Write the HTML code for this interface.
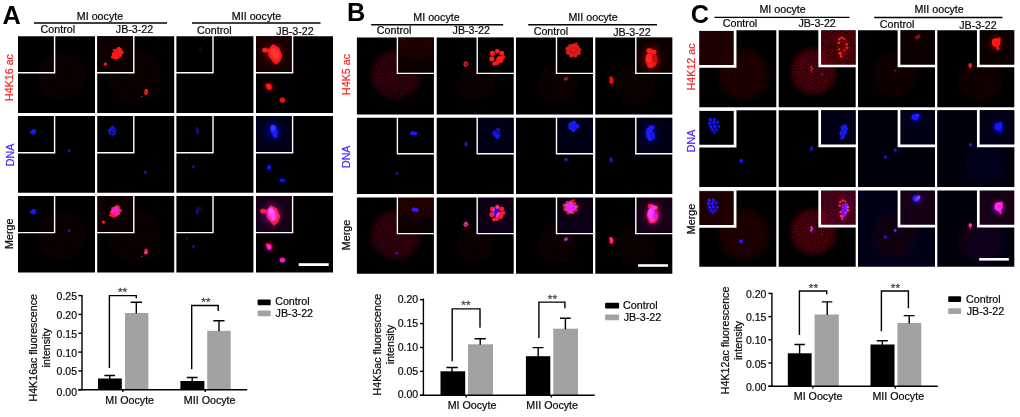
<!DOCTYPE html>
<html lang="en"><head><meta charset="utf-8"><title>Figure</title>
<style>
html,body{margin:0;padding:0;background:#fff;}
svg{display:block;font-family:"Liberation Sans", Arial, Helvetica, sans-serif;}
text{font-family:"Liberation Sans", Arial, Helvetica, sans-serif;}
.t{font-size:10.7px;fill:#0a0a0a;stroke:#0a0a0a;stroke-width:0.22px;}
.big{font-size:25.3px;font-weight:bold;fill:#000;}
.ax{stroke:#000;stroke-width:1.4;fill:none;}
.tk{font-size:10.5px;fill:#0a0a0a;stroke:#0a0a0a;stroke-width:0.2px;}
.st{font-size:11.8px;fill:#4a4a4a;stroke:#4a4a4a;stroke-width:0.3px;}
</style></head><body>
<svg width="1020" height="417" viewBox="0 0 1020 417">
<defs>
<filter id="b0" x="-50%" y="-50%" width="200%" height="200%"><feGaussianBlur stdDeviation="0.35"/></filter>
<filter id="b05" x="-50%" y="-50%" width="200%" height="200%"><feGaussianBlur stdDeviation="0.55"/></filter>
<filter id="b1" x="-50%" y="-50%" width="200%" height="200%"><feGaussianBlur stdDeviation="0.7"/></filter>
<filter id="b2" x="-50%" y="-50%" width="200%" height="200%"><feGaussianBlur stdDeviation="1.6"/></filter>
<filter id="b3" x="-50%" y="-50%" width="200%" height="200%"><feGaussianBlur stdDeviation="3"/></filter>
<filter id="gr" x="-20%" y="-20%" width="140%" height="140%">
<feGaussianBlur in="SourceGraphic" stdDeviation="2.6" result="bl"/>
<feTurbulence type="fractalNoise" baseFrequency="0.85" numOctaves="2" seed="5" result="n"/>
<feColorMatrix in="n" type="matrix" values="0 0 0 0 1  0 0 0 0 1  0 0 0 0 1  1.7 0 0 0 -0.2" result="na"/>
<feComposite in="bl" in2="na" operator="in"/></filter>
<filter id="gr0" x="0" y="0" width="100%" height="100%">
<feTurbulence type="fractalNoise" baseFrequency="0.85" numOctaves="2" seed="9" result="n"/>
<feColorMatrix in="n" type="matrix" values="0 0 0 0 1  0 0 0 0 1  0 0 0 0 1  1.7 0 0 0 -0.2" result="na"/>
<feComposite in="SourceGraphic" in2="na" operator="in"/></filter>
<clipPath id="clipTR"><rect x="41" y="0" width="36" height="36"/></clipPath>
<clipPath id="clipCell"><rect x="0" y="0" width="77" height="77"/></clipPath>
<clipPath id="ccA0"><rect x="0" y="0" width="77" height="76.80"/></clipPath><clipPath id="ccA1"><rect x="0" y="0" width="77" height="76.70"/></clipPath><clipPath id="ccA2"><rect x="0" y="0" width="77" height="76.60"/></clipPath><clipPath id="ccB0"><rect x="0" y="0" width="77" height="77.00"/></clipPath><clipPath id="ccB1"><rect x="0" y="0" width="77" height="76.30"/></clipPath><clipPath id="ccB2"><rect x="0" y="0" width="77" height="76.20"/></clipPath><clipPath id="ccC0"><rect x="0" y="0" width="77" height="77.00"/></clipPath><clipPath id="ccC1"><rect x="0" y="0" width="77" height="76.90"/></clipPath><clipPath id="ccC2"><rect x="0" y="0" width="77" height="76.40"/></clipPath>
</defs>
<filter id="soft" x="0" y="0" width="100%" height="100%" filterUnits="userSpaceOnUse"><feGaussianBlur stdDeviation="0.38"/></filter>
<g filter="url(#soft)">
<rect x="-5" y="-5" width="1030" height="427" fill="#fff"/>

<g transform="translate(18 36.2)"><g clip-path="url(#ccA0)" style="isolation:isolate"><rect x="-4" y="-4" width="85" height="84.80" fill="#020003"/><circle cx="44.00" cy="40.00" r="24.00" fill="#0c0000" opacity="1" filter="url(#gr)"/></g><path d="M0 36.6 H36.6 V0" fill="none" stroke="#fff" stroke-width="1.4" stroke-linecap="square"/></g>
<g transform="translate(18 116.1)"><g clip-path="url(#ccA1)" style="isolation:isolate"><rect x="-4" y="-4" width="85" height="84.70" fill="#020003"/><g filter="url(#b0)"><ellipse cx="15.50" cy="16.00" rx="2.40" ry="2.80" fill="#1a1aff" opacity="0.6" filter="url(#b1)"/><circle cx="16.70" cy="14.64" r="1.17" fill="#1a1aff" opacity="1"/><circle cx="15.27" cy="16.84" r="1.29" fill="#1a1aff" opacity="1"/><circle cx="17.03" cy="15.63" r="1.28" fill="#1a1aff" opacity="1"/><circle cx="16.51" cy="14.49" r="1.36" fill="#1a1aff" opacity="1"/><circle cx="13.34" cy="16.23" r="1.35" fill="#1a1aff" opacity="1"/><circle cx="14.96" cy="14.42" r="1.14" fill="#1a1aff" opacity="1"/><circle cx="15.22" cy="15.98" r="1.06" fill="#1a1aff" opacity="1"/></g><ellipse cx="51.20" cy="34.50" rx="1.00" ry="1.50" fill="#1a1aff" opacity="1" filter="url(#b0)"/></g><path d="M0 36.6 H36.6 V0" fill="none" stroke="#fff" stroke-width="1.4" stroke-linecap="square"/></g>
<g transform="translate(18 196.0)"><g clip-path="url(#ccA2)" style="isolation:isolate"><rect x="-4" y="-4" width="85" height="84.60" fill="#020003"/><circle cx="44.00" cy="40.00" r="24.00" fill="#0c0000" opacity="1" filter="url(#gr)"/><g style="mix-blend-mode:screen"><g filter="url(#b0)"><ellipse cx="15.50" cy="16.00" rx="2.40" ry="2.80" fill="#1a1aff" opacity="0.6" filter="url(#b1)"/><circle cx="16.70" cy="14.64" r="1.17" fill="#1a1aff" opacity="1"/><circle cx="15.27" cy="16.84" r="1.29" fill="#1a1aff" opacity="1"/><circle cx="17.03" cy="15.63" r="1.28" fill="#1a1aff" opacity="1"/><circle cx="16.51" cy="14.49" r="1.36" fill="#1a1aff" opacity="1"/><circle cx="13.34" cy="16.23" r="1.35" fill="#1a1aff" opacity="1"/><circle cx="14.96" cy="14.42" r="1.14" fill="#1a1aff" opacity="1"/><circle cx="15.22" cy="15.98" r="1.06" fill="#1a1aff" opacity="1"/></g><ellipse cx="51.20" cy="34.50" rx="1.00" ry="1.50" fill="#1a1aff" opacity="1" filter="url(#b0)"/></g></g><path d="M0 36.6 H36.6 V0" fill="none" stroke="#fff" stroke-width="1.4" stroke-linecap="square"/></g>
<g transform="translate(97.2 36.2)"><g clip-path="url(#ccA0)" style="isolation:isolate"><rect x="-4" y="-4" width="85" height="84.80" fill="#020003"/><circle cx="37.20" cy="40.50" r="27.00" fill="#110000" opacity="1" filter="url(#gr)"/><rect x="0" y="0" width="36" height="36" fill="#0a0000"/><g filter="url(#b0)"><ellipse cx="20.20" cy="16.80" rx="4.20" ry="6.00" fill="#ff1a1a" opacity="0.9" filter="url(#b1)" transform="rotate(35 20.20 16.80)"/><circle cx="20.81" cy="21.05" r="1.50" fill="#ff1a1a" opacity="1"/><circle cx="18.02" cy="16.99" r="1.47" fill="#ff1a1a" opacity="1"/><circle cx="23.38" cy="13.50" r="1.38" fill="#ff1a1a" opacity="1"/><circle cx="17.74" cy="18.69" r="1.66" fill="#ff1a1a" opacity="1"/><circle cx="23.09" cy="19.54" r="1.39" fill="#ff1a1a" opacity="1"/><circle cx="17.08" cy="14.04" r="1.32" fill="#ff1a1a" opacity="1"/><circle cx="16.36" cy="20.45" r="1.43" fill="#ff1a1a" opacity="1"/><circle cx="22.64" cy="14.24" r="1.17" fill="#ff1a1a" opacity="1"/><circle cx="21.71" cy="11.98" r="1.42" fill="#ff1a1a" opacity="1"/><circle cx="20.55" cy="20.84" r="1.62" fill="#ff1a1a" opacity="1"/><circle cx="19.88" cy="21.27" r="1.34" fill="#ff1a1a" opacity="1"/><circle cx="15.84" cy="17.86" r="1.52" fill="#ff1a1a" opacity="1"/><circle cx="19.69" cy="16.94" r="1.41" fill="#ff1a1a" opacity="1"/><circle cx="23.24" cy="18.94" r="1.58" fill="#ff1a1a" opacity="1"/><circle cx="16.24" cy="20.22" r="1.62" fill="#ff1a1a" opacity="1"/><circle cx="19.41" cy="17.34" r="1.63" fill="#ff1a1a" opacity="1"/><circle cx="21.91" cy="17.78" r="1.27" fill="#ff1a1a" opacity="1"/><circle cx="17.42" cy="18.09" r="1.24" fill="#ff1a1a" opacity="1"/><circle cx="24.89" cy="16.33" r="1.62" fill="#ff1a1a" opacity="1"/><circle cx="15.35" cy="20.81" r="1.52" fill="#ff1a1a" opacity="1"/><circle cx="20.10" cy="17.01" r="1.49" fill="#ff1a1a" opacity="1"/><circle cx="22.26" cy="15.20" r="1.27" fill="#ff1a1a" opacity="1"/><circle cx="16.98" cy="21.58" r="1.48" fill="#ff1a1a" opacity="1"/><circle cx="18.72" cy="22.36" r="1.26" fill="#ff1a1a" opacity="1"/></g><ellipse cx="8.10" cy="27.90" rx="1.80" ry="1.70" fill="#ff1a1a" opacity="1" filter="url(#b0)"/><g filter="url(#b0)"><circle cx="50.00" cy="55.54" r="1.02" fill="#ff1a1a" opacity="1"/><circle cx="49.71" cy="57.13" r="1.04" fill="#ff1a1a" opacity="1"/><circle cx="48.86" cy="57.80" r="0.83" fill="#ff1a1a" opacity="1"/><circle cx="48.24" cy="57.39" r="1.13" fill="#ff1a1a" opacity="1"/><circle cx="47.80" cy="55.85" r="0.89" fill="#ff1a1a" opacity="1"/><circle cx="48.25" cy="54.01" r="0.99" fill="#ff1a1a" opacity="1"/><circle cx="49.01" cy="53.61" r="0.99" fill="#ff1a1a" opacity="1"/><circle cx="49.71" cy="54.28" r="0.86" fill="#ff1a1a" opacity="1"/></g><ellipse cx="48.90" cy="55.70" rx="1.60" ry="2.60" fill="#ff1a1a" opacity="0.55" filter="url(#b0)" transform="rotate(35 48.90 55.70)"/><ellipse cx="44.40" cy="60.30" rx="0.80" ry="0.80" fill="#ff1a1a" opacity="1" filter="url(#b0)"/></g><path d="M0 36.6 H36.6 V0" fill="none" stroke="#fff" stroke-width="1.4" stroke-linecap="square"/></g>
<g transform="translate(97.2 116.1)"><g clip-path="url(#ccA1)" style="isolation:isolate"><rect x="-4" y="-4" width="85" height="84.70" fill="#020003"/><g filter="url(#b0)"><ellipse cx="15.30" cy="14.70" rx="3.80" ry="4.20" fill="#1a1aff" opacity="0.3375" filter="url(#b1)" transform="rotate(30 15.30 14.70)"/><circle cx="15.25" cy="10.41" r="0.94" fill="#1a1aff" opacity="0.75"/><circle cx="12.65" cy="17.66" r="1.08" fill="#1a1aff" opacity="0.75"/><circle cx="18.50" cy="13.56" r="0.99" fill="#1a1aff" opacity="0.75"/><circle cx="15.22" cy="11.14" r="0.84" fill="#1a1aff" opacity="0.75"/><circle cx="16.24" cy="18.53" r="1.08" fill="#1a1aff" opacity="0.75"/><circle cx="13.98" cy="11.90" r="1.02" fill="#1a1aff" opacity="0.75"/><circle cx="15.32" cy="18.52" r="1.11" fill="#1a1aff" opacity="0.75"/><circle cx="11.84" cy="13.84" r="1.04" fill="#1a1aff" opacity="0.75"/><circle cx="16.84" cy="12.13" r="0.97" fill="#1a1aff" opacity="0.75"/><circle cx="17.71" cy="16.60" r="0.91" fill="#1a1aff" opacity="0.75"/><circle cx="17.90" cy="16.98" r="1.11" fill="#1a1aff" opacity="0.75"/><circle cx="17.76" cy="16.21" r="0.94" fill="#1a1aff" opacity="0.75"/><circle cx="16.33" cy="14.56" r="0.86" fill="#1a1aff" opacity="0.75"/><circle cx="12.45" cy="16.41" r="0.82" fill="#1a1aff" opacity="0.75"/><circle cx="11.45" cy="13.83" r="0.90" fill="#1a1aff" opacity="0.75"/><circle cx="15.68" cy="14.61" r="0.92" fill="#1a1aff" opacity="0.75"/><circle cx="16.06" cy="11.94" r="1.02" fill="#1a1aff" opacity="0.75"/><circle cx="14.36" cy="12.61" r="1.06" fill="#1a1aff" opacity="0.75"/><circle cx="13.74" cy="14.43" r="1.12" fill="#1a1aff" opacity="0.75"/><circle cx="12.12" cy="15.71" r="1.02" fill="#1a1aff" opacity="0.75"/></g><ellipse cx="48.30" cy="56.40" rx="1.20" ry="1.70" fill="#1a1aff" opacity="1" filter="url(#b0)" transform="rotate(35 48.30 56.40)"/></g><path d="M0 36.6 H36.6 V0" fill="none" stroke="#fff" stroke-width="1.4" stroke-linecap="square"/></g>
<g transform="translate(97.2 196.0)"><g clip-path="url(#ccA2)" style="isolation:isolate"><rect x="-4" y="-4" width="85" height="84.60" fill="#020003"/><circle cx="37.20" cy="40.50" r="27.00" fill="#110000" opacity="1" filter="url(#gr)"/><rect x="0" y="0" width="36" height="36" fill="#0a0000"/><g transform="translate(-1.8 -1.8)"><g filter="url(#b0)"><ellipse cx="20.20" cy="16.80" rx="4.20" ry="6.00" fill="#ff1a1a" opacity="0.9" filter="url(#b1)" transform="rotate(35 20.20 16.80)"/><circle cx="20.81" cy="21.05" r="1.50" fill="#ff1a1a" opacity="1"/><circle cx="18.02" cy="16.99" r="1.47" fill="#ff1a1a" opacity="1"/><circle cx="23.38" cy="13.50" r="1.38" fill="#ff1a1a" opacity="1"/><circle cx="17.74" cy="18.69" r="1.66" fill="#ff1a1a" opacity="1"/><circle cx="23.09" cy="19.54" r="1.39" fill="#ff1a1a" opacity="1"/><circle cx="17.08" cy="14.04" r="1.32" fill="#ff1a1a" opacity="1"/><circle cx="16.36" cy="20.45" r="1.43" fill="#ff1a1a" opacity="1"/><circle cx="22.64" cy="14.24" r="1.17" fill="#ff1a1a" opacity="1"/><circle cx="21.71" cy="11.98" r="1.42" fill="#ff1a1a" opacity="1"/><circle cx="20.55" cy="20.84" r="1.62" fill="#ff1a1a" opacity="1"/><circle cx="19.88" cy="21.27" r="1.34" fill="#ff1a1a" opacity="1"/><circle cx="15.84" cy="17.86" r="1.52" fill="#ff1a1a" opacity="1"/><circle cx="19.69" cy="16.94" r="1.41" fill="#ff1a1a" opacity="1"/><circle cx="23.24" cy="18.94" r="1.58" fill="#ff1a1a" opacity="1"/><circle cx="16.24" cy="20.22" r="1.62" fill="#ff1a1a" opacity="1"/><circle cx="19.41" cy="17.34" r="1.63" fill="#ff1a1a" opacity="1"/><circle cx="21.91" cy="17.78" r="1.27" fill="#ff1a1a" opacity="1"/><circle cx="17.42" cy="18.09" r="1.24" fill="#ff1a1a" opacity="1"/><circle cx="24.89" cy="16.33" r="1.62" fill="#ff1a1a" opacity="1"/><circle cx="15.35" cy="20.81" r="1.52" fill="#ff1a1a" opacity="1"/><circle cx="20.10" cy="17.01" r="1.49" fill="#ff1a1a" opacity="1"/><circle cx="22.26" cy="15.20" r="1.27" fill="#ff1a1a" opacity="1"/><circle cx="16.98" cy="21.58" r="1.48" fill="#ff1a1a" opacity="1"/><circle cx="18.72" cy="22.36" r="1.26" fill="#ff1a1a" opacity="1"/></g><ellipse cx="8.10" cy="27.90" rx="1.80" ry="1.70" fill="#ff1a1a" opacity="1" filter="url(#b0)"/></g><g filter="url(#b0)"><circle cx="50.00" cy="55.54" r="1.02" fill="#ff1a1a" opacity="1"/><circle cx="49.71" cy="57.13" r="1.04" fill="#ff1a1a" opacity="1"/><circle cx="48.86" cy="57.80" r="0.83" fill="#ff1a1a" opacity="1"/><circle cx="48.24" cy="57.39" r="1.13" fill="#ff1a1a" opacity="1"/><circle cx="47.80" cy="55.85" r="0.89" fill="#ff1a1a" opacity="1"/><circle cx="48.25" cy="54.01" r="0.99" fill="#ff1a1a" opacity="1"/><circle cx="49.01" cy="53.61" r="0.99" fill="#ff1a1a" opacity="1"/><circle cx="49.71" cy="54.28" r="0.86" fill="#ff1a1a" opacity="1"/></g><ellipse cx="48.90" cy="55.70" rx="1.60" ry="2.60" fill="#ff1a1a" opacity="0.55" filter="url(#b0)" transform="rotate(35 48.90 55.70)"/><ellipse cx="44.40" cy="60.30" rx="0.80" ry="0.80" fill="#ff1a1a" opacity="1" filter="url(#b0)"/><g style="mix-blend-mode:screen"><g transform="translate(3 0.2)"><g filter="url(#b0)"><ellipse cx="15.30" cy="14.70" rx="3.80" ry="4.20" fill="#1a1aff" opacity="0.3375" filter="url(#b1)" transform="rotate(30 15.30 14.70)"/><circle cx="15.25" cy="10.41" r="0.94" fill="#1a1aff" opacity="0.75"/><circle cx="12.65" cy="17.66" r="1.08" fill="#1a1aff" opacity="0.75"/><circle cx="18.50" cy="13.56" r="0.99" fill="#1a1aff" opacity="0.75"/><circle cx="15.22" cy="11.14" r="0.84" fill="#1a1aff" opacity="0.75"/><circle cx="16.24" cy="18.53" r="1.08" fill="#1a1aff" opacity="0.75"/><circle cx="13.98" cy="11.90" r="1.02" fill="#1a1aff" opacity="0.75"/><circle cx="15.32" cy="18.52" r="1.11" fill="#1a1aff" opacity="0.75"/><circle cx="11.84" cy="13.84" r="1.04" fill="#1a1aff" opacity="0.75"/><circle cx="16.84" cy="12.13" r="0.97" fill="#1a1aff" opacity="0.75"/><circle cx="17.71" cy="16.60" r="0.91" fill="#1a1aff" opacity="0.75"/><circle cx="17.90" cy="16.98" r="1.11" fill="#1a1aff" opacity="0.75"/><circle cx="17.76" cy="16.21" r="0.94" fill="#1a1aff" opacity="0.75"/><circle cx="16.33" cy="14.56" r="0.86" fill="#1a1aff" opacity="0.75"/><circle cx="12.45" cy="16.41" r="0.82" fill="#1a1aff" opacity="0.75"/><circle cx="11.45" cy="13.83" r="0.90" fill="#1a1aff" opacity="0.75"/><circle cx="15.68" cy="14.61" r="0.92" fill="#1a1aff" opacity="0.75"/><circle cx="16.06" cy="11.94" r="1.02" fill="#1a1aff" opacity="0.75"/><circle cx="14.36" cy="12.61" r="1.06" fill="#1a1aff" opacity="0.75"/><circle cx="13.74" cy="14.43" r="1.12" fill="#1a1aff" opacity="0.75"/><circle cx="12.12" cy="15.71" r="1.02" fill="#1a1aff" opacity="0.75"/></g></g><ellipse cx="48.30" cy="56.40" rx="1.20" ry="1.70" fill="#1a1aff" opacity="1" filter="url(#b0)" transform="rotate(35 48.30 56.40)"/></g></g><path d="M0 36.6 H36.6 V0" fill="none" stroke="#fff" stroke-width="1.4" stroke-linecap="square"/></g>
<g transform="translate(176.4 36.2)"><g clip-path="url(#ccA0)" style="isolation:isolate"><rect x="-4" y="-4" width="85" height="84.80" fill="#020003"/><ellipse cx="24.00" cy="13.00" rx="1.50" ry="3.00" fill="#2a0000" opacity="1" filter="url(#b1)"/><ellipse cx="11.00" cy="42.00" rx="1.00" ry="1.00" fill="#240000" opacity="1" filter="url(#b0)"/><ellipse cx="18.00" cy="50.00" rx="1.00" ry="1.00" fill="#240000" opacity="1" filter="url(#b0)"/></g><path d="M0 36.6 H36.6 V0" fill="none" stroke="#fff" stroke-width="1.4" stroke-linecap="square"/></g>
<g transform="translate(176.4 116.1)"><g clip-path="url(#ccA1)" style="isolation:isolate"><rect x="-4" y="-4" width="85" height="84.70" fill="#020003"/><ellipse cx="20.90" cy="14.70" rx="1.50" ry="4.00" fill="#1a1aff" opacity="0.5" filter="url(#b1)"/><ellipse cx="17.00" cy="50.60" rx="1.10" ry="1.50" fill="#1a1aff" opacity="0.9" filter="url(#b0)" transform="rotate(40 17.00 50.60)"/><ellipse cx="9.80" cy="42.80" rx="0.90" ry="1.40" fill="#1a1aff" opacity="0.4" filter="url(#b0)"/></g><path d="M0 36.6 H36.6 V0" fill="none" stroke="#fff" stroke-width="1.4" stroke-linecap="square"/></g>
<g transform="translate(176.4 196.0)"><g clip-path="url(#ccA2)" style="isolation:isolate"><rect x="-4" y="-4" width="85" height="84.60" fill="#020003"/><ellipse cx="24.00" cy="13.00" rx="1.50" ry="3.00" fill="#2a0000" opacity="1" filter="url(#b1)"/><ellipse cx="11.00" cy="42.00" rx="1.00" ry="1.00" fill="#240000" opacity="1" filter="url(#b0)"/><ellipse cx="18.00" cy="50.00" rx="1.00" ry="1.00" fill="#240000" opacity="1" filter="url(#b0)"/><g style="mix-blend-mode:screen"><ellipse cx="20.90" cy="14.70" rx="1.50" ry="4.00" fill="#1a1aff" opacity="0.5" filter="url(#b1)"/><ellipse cx="17.00" cy="50.60" rx="1.10" ry="1.50" fill="#1a1aff" opacity="0.9" filter="url(#b0)" transform="rotate(40 17.00 50.60)"/><ellipse cx="9.80" cy="42.80" rx="0.90" ry="1.40" fill="#1a1aff" opacity="0.4" filter="url(#b0)"/></g></g><path d="M0 36.6 H36.6 V0" fill="none" stroke="#fff" stroke-width="1.4" stroke-linecap="square"/></g>
<g transform="translate(256.0 36.2)"><g clip-path="url(#ccA0)" style="isolation:isolate"><rect x="-4" y="-4" width="85" height="84.80" fill="#020003"/><rect x="0" y="0" width="36" height="36" fill="#120000"/><ellipse cx="17.50" cy="17.00" rx="11.00" ry="12.00" fill="#ff0000" opacity="0.2" filter="url(#b3)"/><path d="M17 8.8 L22.5 12 L25.3 19 L24 24 L20 27.6 L17 24.5 L13.2 19.5 L12.6 14 Z" fill="#ff1a1a" stroke="#ff1a1a" stroke-width="1.6" stroke-linejoin="round" filter="url(#b1)"/><ellipse cx="9.40" cy="14.00" rx="3.40" ry="2.50" fill="#ff1a1a" opacity="1" filter="url(#b1)" transform="rotate(10 9.40 14.00)"/><ellipse cx="19.00" cy="17.50" rx="4.00" ry="6.00" fill="#ff3434" opacity="1" filter="url(#b1)" transform="rotate(-20 19.00 17.50)"/><ellipse cx="13.10" cy="50.60" rx="5.00" ry="5.50" fill="#ff0000" opacity="0.3" filter="url(#b2)"/><ellipse cx="13.10" cy="50.60" rx="2.60" ry="3.20" fill="#ff1a1a" opacity="1" filter="url(#b0)" transform="rotate(-20 13.10 50.60)"/><ellipse cx="11.00" cy="48.80" rx="1.40" ry="1.20" fill="#ff1a1a" opacity="1" filter="url(#b0)"/><g filter="url(#b0)"><circle cx="28.05" cy="63.85" r="1.15" fill="#ff1a1a" opacity="1"/><circle cx="27.42" cy="64.91" r="1.24" fill="#ff1a1a" opacity="1"/><circle cx="26.17" cy="65.25" r="1.23" fill="#ff1a1a" opacity="1"/><circle cx="25.25" cy="64.96" r="1.04" fill="#ff1a1a" opacity="1"/><circle cx="24.57" cy="63.61" r="1.11" fill="#ff1a1a" opacity="1"/><circle cx="25.22" cy="62.66" r="0.89" fill="#ff1a1a" opacity="1"/><circle cx="26.28" cy="62.35" r="0.94" fill="#ff1a1a" opacity="1"/><circle cx="27.55" cy="62.79" r="1.08" fill="#ff1a1a" opacity="1"/></g><ellipse cx="26.30" cy="63.80" rx="3.50" ry="3.20" fill="#ff0000" opacity="0.2" filter="url(#b1)"/></g><path d="M0 36.6 H36.6 V0" fill="none" stroke="#fff" stroke-width="1.4" stroke-linecap="square"/></g>
<g transform="translate(256.0 116.1)"><g clip-path="url(#ccA1)" style="isolation:isolate"><rect x="-4" y="-4" width="85" height="84.70" fill="#020003"/><rect x="0" y="0" width="36" height="36" fill="#030018"/><ellipse cx="17.00" cy="15.00" rx="9.00" ry="10.00" fill="#0000ff" opacity="0.3" filter="url(#b3)"/><ellipse cx="18.00" cy="14.50" rx="3.60" ry="6.20" fill="#1a1aff" opacity="1" filter="url(#b1)" transform="rotate(-15 18.00 14.50)"/><ellipse cx="17.00" cy="12.00" rx="2.60" ry="2.80" fill="#2a3cff" opacity="1" filter="url(#b1)"/><ellipse cx="19.50" cy="19.50" rx="2.20" ry="2.50" fill="#1a1aff" opacity="1" filter="url(#b1)"/><ellipse cx="13.10" cy="51.20" rx="1.80" ry="2.50" fill="#1a1aff" opacity="1" filter="url(#b0)"/><ellipse cx="13.10" cy="51.20" rx="3.50" ry="4.00" fill="#0000ff" opacity="0.3" filter="url(#b2)"/><ellipse cx="25.00" cy="64.40" rx="1.50" ry="1.50" fill="#1a1aff" opacity="1" filter="url(#b0)"/><ellipse cx="27.30" cy="64.20" rx="1.60" ry="1.60" fill="#1a1aff" opacity="1" filter="url(#b0)"/><ellipse cx="26.00" cy="64.20" rx="4.00" ry="3.00" fill="#0000ff" opacity="0.3" filter="url(#b2)"/></g><path d="M0 36.6 H36.6 V0" fill="none" stroke="#fff" stroke-width="1.4" stroke-linecap="square"/></g>
<g transform="translate(256.0 196.0)"><g clip-path="url(#ccA2)" style="isolation:isolate"><rect x="-4" y="-4" width="85" height="84.60" fill="#020003"/><rect x="0" y="0" width="36" height="36" fill="#120000"/><g transform="translate(-2 1.2)"><ellipse cx="17.50" cy="17.00" rx="11.00" ry="12.00" fill="#ff0000" opacity="0.2" filter="url(#b3)"/><path d="M17 8.8 L22.5 12 L25.3 19 L24 24 L20 27.6 L17 24.5 L13.2 19.5 L12.6 14 Z" fill="#ff1a1a" stroke="#ff1a1a" stroke-width="1.6" stroke-linejoin="round" filter="url(#b1)"/><ellipse cx="9.40" cy="14.00" rx="3.40" ry="2.50" fill="#ff1a1a" opacity="1" filter="url(#b1)" transform="rotate(10 9.40 14.00)"/><ellipse cx="19.00" cy="17.50" rx="4.00" ry="6.00" fill="#ff3434" opacity="1" filter="url(#b1)" transform="rotate(-20 19.00 17.50)"/></g><ellipse cx="13.10" cy="50.60" rx="5.00" ry="5.50" fill="#ff0000" opacity="0.3" filter="url(#b2)"/><ellipse cx="13.10" cy="50.60" rx="2.60" ry="3.20" fill="#ff1a1a" opacity="1" filter="url(#b0)" transform="rotate(-20 13.10 50.60)"/><ellipse cx="11.00" cy="48.80" rx="1.40" ry="1.20" fill="#ff1a1a" opacity="1" filter="url(#b0)"/><g filter="url(#b0)"><circle cx="28.05" cy="63.85" r="1.15" fill="#ff1a1a" opacity="1"/><circle cx="27.42" cy="64.91" r="1.24" fill="#ff1a1a" opacity="1"/><circle cx="26.17" cy="65.25" r="1.23" fill="#ff1a1a" opacity="1"/><circle cx="25.25" cy="64.96" r="1.04" fill="#ff1a1a" opacity="1"/><circle cx="24.57" cy="63.61" r="1.11" fill="#ff1a1a" opacity="1"/><circle cx="25.22" cy="62.66" r="0.89" fill="#ff1a1a" opacity="1"/><circle cx="26.28" cy="62.35" r="0.94" fill="#ff1a1a" opacity="1"/><circle cx="27.55" cy="62.79" r="1.08" fill="#ff1a1a" opacity="1"/></g><ellipse cx="26.30" cy="63.80" rx="3.50" ry="3.20" fill="#ff0000" opacity="0.2" filter="url(#b1)"/><g style="mix-blend-mode:screen"><rect x="0" y="0" width="36" height="36" fill="#030018"/><g transform="translate(-2.3 3)"><ellipse cx="17.00" cy="15.00" rx="9.00" ry="10.00" fill="#0000ff" opacity="0.3" filter="url(#b3)"/><ellipse cx="18.00" cy="14.50" rx="3.60" ry="6.20" fill="#1a1aff" opacity="1" filter="url(#b1)" transform="rotate(-15 18.00 14.50)"/><ellipse cx="17.00" cy="12.00" rx="2.60" ry="2.80" fill="#2a3cff" opacity="1" filter="url(#b1)"/><ellipse cx="19.50" cy="19.50" rx="2.20" ry="2.50" fill="#1a1aff" opacity="1" filter="url(#b1)"/></g><ellipse cx="13.10" cy="51.20" rx="1.80" ry="2.50" fill="#1a1aff" opacity="1" filter="url(#b0)"/><ellipse cx="13.10" cy="51.20" rx="3.50" ry="4.00" fill="#0000ff" opacity="0.3" filter="url(#b2)"/><ellipse cx="25.00" cy="64.40" rx="1.50" ry="1.50" fill="#1a1aff" opacity="1" filter="url(#b0)"/><ellipse cx="27.30" cy="64.20" rx="1.60" ry="1.60" fill="#1a1aff" opacity="1" filter="url(#b0)"/><ellipse cx="26.00" cy="64.20" rx="4.00" ry="3.00" fill="#0000ff" opacity="0.3" filter="url(#b2)"/></g></g><path d="M0 36.6 H36.6 V0" fill="none" stroke="#fff" stroke-width="1.4" stroke-linecap="square"/></g>
<g transform="translate(356.9 37.4)"><g clip-path="url(#ccB0)" style="isolation:isolate"><rect x="-4" y="-4" width="85" height="85.00" fill="#020003"/><circle cx="38.50" cy="37.50" r="24.00" fill="#40050a" opacity="1" filter="url(#gr)"/><rect x="41" y="0" width="36" height="36" fill="#090001"/><g clip-path="url(#clipTR)"><ellipse cx="60.00" cy="2.00" rx="24.00" ry="20.00" fill="#2a0306" opacity="1" filter="url(#gr)"/></g></g><path d="M77 36.0 H40.5 V0" fill="none" stroke="#fff" stroke-width="1.4" stroke-linecap="square"/></g>
<g transform="translate(356.9 117.7)"><g clip-path="url(#ccB1)" style="isolation:isolate"><rect x="-4" y="-4" width="85" height="84.30" fill="#020003"/><g filter="url(#b0)"><ellipse cx="56.60" cy="15.60" rx="3.60" ry="1.84" fill="#1a1aff" opacity="0.8" filter="url(#b1)"/><circle cx="58.85" cy="16.66" r="1.07" fill="#1a1aff" opacity="1"/><circle cx="57.85" cy="15.50" r="1.17" fill="#1a1aff" opacity="1"/><circle cx="55.63" cy="16.49" r="0.98" fill="#1a1aff" opacity="1"/><circle cx="58.92" cy="16.35" r="1.04" fill="#1a1aff" opacity="1"/><circle cx="56.89" cy="16.20" r="0.95" fill="#1a1aff" opacity="1"/><circle cx="57.01" cy="16.60" r="0.98" fill="#1a1aff" opacity="1"/><circle cx="58.93" cy="16.21" r="1.21" fill="#1a1aff" opacity="1"/><circle cx="55.34" cy="14.27" r="1.19" fill="#1a1aff" opacity="1"/><circle cx="58.94" cy="15.42" r="0.92" fill="#1a1aff" opacity="1"/><circle cx="54.27" cy="16.04" r="0.99" fill="#1a1aff" opacity="1"/></g><ellipse cx="39.90" cy="55.60" rx="1.60" ry="1.00" fill="#1a1aff" opacity="1" filter="url(#b0)" transform="rotate(-15 39.90 55.60)"/></g><path d="M77 36.0 H40.5 V0" fill="none" stroke="#fff" stroke-width="1.4" stroke-linecap="square"/></g>
<g transform="translate(356.9 197.6)"><g clip-path="url(#ccB2)" style="isolation:isolate"><rect x="-4" y="-4" width="85" height="84.20" fill="#020003"/><circle cx="38.50" cy="37.50" r="24.00" fill="#40050a" opacity="1" filter="url(#gr)"/><rect x="41" y="0" width="36" height="36" fill="#090001"/><g clip-path="url(#clipTR)"><ellipse cx="60.00" cy="2.00" rx="24.00" ry="20.00" fill="#2a0306" opacity="1" filter="url(#gr)"/></g><g style="mix-blend-mode:screen"><g transform="translate(1.5 -3.5)"><g filter="url(#b0)"><ellipse cx="56.60" cy="15.60" rx="3.60" ry="1.84" fill="#1a1aff" opacity="0.8" filter="url(#b1)"/><circle cx="58.85" cy="16.66" r="1.07" fill="#1a1aff" opacity="1"/><circle cx="57.85" cy="15.50" r="1.17" fill="#1a1aff" opacity="1"/><circle cx="55.63" cy="16.49" r="0.98" fill="#1a1aff" opacity="1"/><circle cx="58.92" cy="16.35" r="1.04" fill="#1a1aff" opacity="1"/><circle cx="56.89" cy="16.20" r="0.95" fill="#1a1aff" opacity="1"/><circle cx="57.01" cy="16.60" r="0.98" fill="#1a1aff" opacity="1"/><circle cx="58.93" cy="16.21" r="1.21" fill="#1a1aff" opacity="1"/><circle cx="55.34" cy="14.27" r="1.19" fill="#1a1aff" opacity="1"/><circle cx="58.94" cy="15.42" r="0.92" fill="#1a1aff" opacity="1"/><circle cx="54.27" cy="16.04" r="0.99" fill="#1a1aff" opacity="1"/></g></g><ellipse cx="39.90" cy="55.60" rx="1.60" ry="1.00" fill="#1a1aff" opacity="1" filter="url(#b0)" transform="rotate(-15 39.90 55.60)"/></g></g><path d="M77 36.0 H40.5 V0" fill="none" stroke="#fff" stroke-width="1.4" stroke-linecap="square"/></g>
<g transform="translate(436.7 37.4)"><g clip-path="url(#ccB0)" style="isolation:isolate"><rect x="-4" y="-4" width="85" height="85.00" fill="#020003"/><circle cx="38.70" cy="45.20" r="18.50" fill="#110001" opacity="1" filter="url(#gr)"/><rect x="41" y="0" width="36" height="36" fill="#060001"/><g filter="url(#b0)"><circle cx="30.90" cy="26.61" r="0.86" fill="#ff1a1a" opacity="1"/><circle cx="30.35" cy="27.96" r="0.83" fill="#ff1a1a" opacity="1"/><circle cx="29.18" cy="28.40" r="0.95" fill="#ff1a1a" opacity="1"/><circle cx="28.17" cy="28.05" r="1.00" fill="#ff1a1a" opacity="1"/><circle cx="27.52" cy="26.94" r="0.97" fill="#ff1a1a" opacity="1"/><circle cx="27.85" cy="25.66" r="0.84" fill="#ff1a1a" opacity="1"/><circle cx="29.16" cy="25.00" r="1.13" fill="#ff1a1a" opacity="1"/><circle cx="30.26" cy="25.37" r="0.89" fill="#ff1a1a" opacity="1"/></g><g filter="url(#b1)"><circle cx="55.8" cy="15.9" r="2.6" fill="#ff1a1a" opacity="1"/><circle cx="60.6" cy="13.6" r="2.3" fill="#ff1a1a" opacity="1"/><circle cx="65.0" cy="15.8" r="2.4" fill="#ff1a1a" opacity="1"/><circle cx="66.6" cy="19.6" r="2.0" fill="#ff1a1a" opacity="1"/><circle cx="63.2" cy="22.2" r="3.6" fill="#ff1a1a" opacity="1"/><circle cx="60.2" cy="25.4" r="2.4" fill="#ff1a1a" opacity="1"/><circle cx="57.4" cy="26.4" r="2.0" fill="#ff1a1a" opacity="1"/><circle cx="55.2" cy="21.4" r="2.6" fill="#ff1a1a" opacity="1"/></g></g><path d="M77 36.0 H40.5 V0" fill="none" stroke="#fff" stroke-width="1.4" stroke-linecap="square"/></g>
<g transform="translate(436.7 117.7)"><g clip-path="url(#ccB1)" style="isolation:isolate"><rect x="-4" y="-4" width="85" height="84.30" fill="#020003"/><rect x="41" y="0" width="36" height="36" fill="#020012"/><g filter="url(#b0)"><ellipse cx="60.60" cy="16.00" rx="3.60" ry="4.60" fill="#1a1aff" opacity="0.45" filter="url(#b1)"/><circle cx="60.32" cy="14.73" r="1.02" fill="#1a1aff" opacity="0.9"/><circle cx="60.62" cy="20.01" r="0.99" fill="#1a1aff" opacity="0.9"/><circle cx="61.01" cy="17.17" r="0.98" fill="#1a1aff" opacity="0.9"/><circle cx="59.69" cy="18.05" r="1.15" fill="#1a1aff" opacity="0.9"/><circle cx="62.30" cy="12.55" r="1.06" fill="#1a1aff" opacity="0.9"/><circle cx="57.66" cy="16.06" r="1.35" fill="#1a1aff" opacity="0.9"/><circle cx="61.28" cy="18.76" r="1.12" fill="#1a1aff" opacity="0.9"/><circle cx="62.46" cy="11.99" r="1.08" fill="#1a1aff" opacity="0.9"/><circle cx="61.92" cy="18.27" r="1.14" fill="#1a1aff" opacity="0.9"/><circle cx="57.48" cy="13.65" r="1.05" fill="#1a1aff" opacity="0.9"/><circle cx="58.95" cy="19.11" r="1.04" fill="#1a1aff" opacity="0.9"/><circle cx="57.23" cy="14.78" r="1.17" fill="#1a1aff" opacity="0.9"/><circle cx="57.00" cy="15.24" r="1.34" fill="#1a1aff" opacity="0.9"/><circle cx="57.67" cy="16.97" r="1.01" fill="#1a1aff" opacity="0.9"/><circle cx="61.19" cy="19.98" r="1.05" fill="#1a1aff" opacity="0.9"/><circle cx="60.90" cy="11.15" r="1.00" fill="#1a1aff" opacity="0.9"/><circle cx="60.58" cy="20.23" r="1.14" fill="#1a1aff" opacity="0.9"/><circle cx="59.83" cy="17.40" r="1.00" fill="#1a1aff" opacity="0.9"/></g><ellipse cx="29.40" cy="26.40" rx="1.60" ry="2.10" fill="#1a1aff" opacity="1" filter="url(#b0)"/></g><path d="M77 36.0 H40.5 V0" fill="none" stroke="#fff" stroke-width="1.4" stroke-linecap="square"/></g>
<g transform="translate(436.7 197.6)"><g clip-path="url(#ccB2)" style="isolation:isolate"><rect x="-4" y="-4" width="85" height="84.20" fill="#020003"/><circle cx="38.70" cy="45.20" r="18.50" fill="#110001" opacity="1" filter="url(#gr)"/><rect x="41" y="0" width="36" height="36" fill="#060001"/><g filter="url(#b0)"><circle cx="30.90" cy="26.61" r="0.86" fill="#ff1a1a" opacity="1"/><circle cx="30.35" cy="27.96" r="0.83" fill="#ff1a1a" opacity="1"/><circle cx="29.18" cy="28.40" r="0.95" fill="#ff1a1a" opacity="1"/><circle cx="28.17" cy="28.05" r="1.00" fill="#ff1a1a" opacity="1"/><circle cx="27.52" cy="26.94" r="0.97" fill="#ff1a1a" opacity="1"/><circle cx="27.85" cy="25.66" r="0.84" fill="#ff1a1a" opacity="1"/><circle cx="29.16" cy="25.00" r="1.13" fill="#ff1a1a" opacity="1"/><circle cx="30.26" cy="25.37" r="0.89" fill="#ff1a1a" opacity="1"/></g><g transform="translate(0 -4.5)"><g filter="url(#b1)"><circle cx="55.8" cy="15.9" r="2.6" fill="#ff1a1a" opacity="1"/><circle cx="60.6" cy="13.6" r="2.3" fill="#ff1a1a" opacity="1"/><circle cx="65.0" cy="15.8" r="2.4" fill="#ff1a1a" opacity="1"/><circle cx="66.6" cy="19.6" r="2.0" fill="#ff1a1a" opacity="1"/><circle cx="63.2" cy="22.2" r="3.6" fill="#ff1a1a" opacity="1"/><circle cx="60.2" cy="25.4" r="2.4" fill="#ff1a1a" opacity="1"/><circle cx="57.4" cy="26.4" r="2.0" fill="#ff1a1a" opacity="1"/><circle cx="55.2" cy="21.4" r="2.6" fill="#ff1a1a" opacity="1"/></g></g><g style="mix-blend-mode:screen"><rect x="41" y="0" width="36" height="36" fill="#020012"/><g transform="translate(-0.5 -1.8)"><g filter="url(#b0)"><ellipse cx="60.60" cy="16.00" rx="3.60" ry="4.60" fill="#1a1aff" opacity="0.45" filter="url(#b1)"/><circle cx="60.32" cy="14.73" r="1.02" fill="#1a1aff" opacity="0.9"/><circle cx="60.62" cy="20.01" r="0.99" fill="#1a1aff" opacity="0.9"/><circle cx="61.01" cy="17.17" r="0.98" fill="#1a1aff" opacity="0.9"/><circle cx="59.69" cy="18.05" r="1.15" fill="#1a1aff" opacity="0.9"/><circle cx="62.30" cy="12.55" r="1.06" fill="#1a1aff" opacity="0.9"/><circle cx="57.66" cy="16.06" r="1.35" fill="#1a1aff" opacity="0.9"/><circle cx="61.28" cy="18.76" r="1.12" fill="#1a1aff" opacity="0.9"/><circle cx="62.46" cy="11.99" r="1.08" fill="#1a1aff" opacity="0.9"/><circle cx="61.92" cy="18.27" r="1.14" fill="#1a1aff" opacity="0.9"/><circle cx="57.48" cy="13.65" r="1.05" fill="#1a1aff" opacity="0.9"/><circle cx="58.95" cy="19.11" r="1.04" fill="#1a1aff" opacity="0.9"/><circle cx="57.23" cy="14.78" r="1.17" fill="#1a1aff" opacity="0.9"/><circle cx="57.00" cy="15.24" r="1.34" fill="#1a1aff" opacity="0.9"/><circle cx="57.67" cy="16.97" r="1.01" fill="#1a1aff" opacity="0.9"/><circle cx="61.19" cy="19.98" r="1.05" fill="#1a1aff" opacity="0.9"/><circle cx="60.90" cy="11.15" r="1.00" fill="#1a1aff" opacity="0.9"/><circle cx="60.58" cy="20.23" r="1.14" fill="#1a1aff" opacity="0.9"/><circle cx="59.83" cy="17.40" r="1.00" fill="#1a1aff" opacity="0.9"/></g></g><ellipse cx="29.40" cy="26.40" rx="1.60" ry="2.10" fill="#1a1aff" opacity="1" filter="url(#b0)"/></g></g><path d="M77 36.0 H40.5 V0" fill="none" stroke="#fff" stroke-width="1.4" stroke-linecap="square"/></g>
<g transform="translate(516.0 37.4)"><g clip-path="url(#ccB0)" style="isolation:isolate"><rect x="-4" y="-4" width="85" height="85.00" fill="#020003"/><circle cx="42.00" cy="45.00" r="20.00" fill="#0a0001" opacity="1" filter="url(#gr)"/><rect x="41" y="0" width="36" height="36" fill="#060001"/><ellipse cx="57.30" cy="13.30" rx="6.40" ry="5.20" fill="#c81414" opacity="1" filter="url(#b1)" transform="rotate(-15 57.30 13.30)"/><g filter="url(#b05)"><circle cx="51.6" cy="11.3" r="2.2" fill="#e41c1c" opacity="0.95"/><circle cx="54.3" cy="8.6" r="2.1" fill="#e41c1c" opacity="0.95"/><circle cx="58" cy="8" r="2.2" fill="#e41c1c" opacity="0.95"/><circle cx="61.5" cy="9.6" r="2.0" fill="#e41c1c" opacity="0.95"/><circle cx="63.5" cy="12.4" r="1.9" fill="#e41c1c" opacity="0.95"/><circle cx="62.5" cy="15.8" r="2.1" fill="#e41c1c" opacity="0.95"/><circle cx="59.3" cy="18" r="2.1" fill="#e41c1c" opacity="0.95"/><circle cx="55.3" cy="18.2" r="2.1" fill="#e41c1c" opacity="0.95"/><circle cx="52" cy="15.3" r="2.1" fill="#e41c1c" opacity="0.95"/><circle cx="57.3" cy="12.6" r="2.0" fill="#e41c1c" opacity="0.95"/><circle cx="60.3" cy="6.4" r="1.4" fill="#e41c1c" opacity="0.95"/></g><ellipse cx="50.00" cy="41.30" rx="2.40" ry="1.60" fill="#e01515" opacity="1" filter="url(#b0)" transform="rotate(-35 50.00 41.30)"/><ellipse cx="50.50" cy="41.00" rx="1.00" ry="0.50" fill="#500" opacity="1" transform="rotate(-35 50.50 41.00)"/></g><path d="M77 36.0 H40.5 V0" fill="none" stroke="#fff" stroke-width="1.4" stroke-linecap="square"/></g>
<g transform="translate(516.0 117.7)"><g clip-path="url(#ccB1)" style="isolation:isolate"><rect x="-4" y="-4" width="85" height="84.30" fill="#020003"/><rect x="41" y="0" width="36" height="36" fill="#020012"/><g filter="url(#b0)"><ellipse cx="57.20" cy="8.80" rx="4.80" ry="4.00" fill="#1a1aff" opacity="0.9" filter="url(#b1)" transform="rotate(-20 57.20 8.80)"/><circle cx="56.92" cy="9.41" r="1.91" fill="#1a1aff" opacity="1"/><circle cx="56.90" cy="8.98" r="1.71" fill="#1a1aff" opacity="1"/><circle cx="54.28" cy="9.96" r="1.73" fill="#1a1aff" opacity="1"/><circle cx="54.25" cy="6.41" r="1.84" fill="#1a1aff" opacity="1"/><circle cx="57.76" cy="4.71" r="1.94" fill="#1a1aff" opacity="1"/><circle cx="61.97" cy="8.37" r="1.73" fill="#1a1aff" opacity="1"/><circle cx="56.27" cy="5.41" r="1.47" fill="#1a1aff" opacity="1"/><circle cx="56.70" cy="8.48" r="1.86" fill="#1a1aff" opacity="1"/><circle cx="57.76" cy="9.78" r="1.66" fill="#1a1aff" opacity="1"/><circle cx="58.60" cy="7.93" r="1.53" fill="#1a1aff" opacity="1"/><circle cx="60.95" cy="9.20" r="1.55" fill="#1a1aff" opacity="1"/><circle cx="54.10" cy="8.14" r="1.40" fill="#1a1aff" opacity="1"/><circle cx="59.42" cy="7.15" r="1.86" fill="#1a1aff" opacity="1"/><circle cx="57.38" cy="12.61" r="1.86" fill="#1a1aff" opacity="1"/></g><ellipse cx="50.00" cy="41.80" rx="1.80" ry="1.60" fill="#1a1aff" opacity="1" filter="url(#b0)" transform="rotate(-30 50.00 41.80)"/></g><path d="M77 36.0 H40.5 V0" fill="none" stroke="#fff" stroke-width="1.4" stroke-linecap="square"/></g>
<g transform="translate(516.0 197.6)"><g clip-path="url(#ccB2)" style="isolation:isolate"><rect x="-4" y="-4" width="85" height="84.20" fill="#020003"/><circle cx="42.00" cy="45.00" r="20.00" fill="#0a0001" opacity="1" filter="url(#gr)"/><rect x="41" y="0" width="36" height="36" fill="#060001"/><g transform="translate(-2.8 -3.4)"><ellipse cx="57.30" cy="13.30" rx="6.40" ry="5.20" fill="#c81414" opacity="1" filter="url(#b1)" transform="rotate(-15 57.30 13.30)"/><g filter="url(#b05)"><circle cx="51.6" cy="11.3" r="2.2" fill="#e41c1c" opacity="0.95"/><circle cx="54.3" cy="8.6" r="2.1" fill="#e41c1c" opacity="0.95"/><circle cx="58" cy="8" r="2.2" fill="#e41c1c" opacity="0.95"/><circle cx="61.5" cy="9.6" r="2.0" fill="#e41c1c" opacity="0.95"/><circle cx="63.5" cy="12.4" r="1.9" fill="#e41c1c" opacity="0.95"/><circle cx="62.5" cy="15.8" r="2.1" fill="#e41c1c" opacity="0.95"/><circle cx="59.3" cy="18" r="2.1" fill="#e41c1c" opacity="0.95"/><circle cx="55.3" cy="18.2" r="2.1" fill="#e41c1c" opacity="0.95"/><circle cx="52" cy="15.3" r="2.1" fill="#e41c1c" opacity="0.95"/><circle cx="57.3" cy="12.6" r="2.0" fill="#e41c1c" opacity="0.95"/><circle cx="60.3" cy="6.4" r="1.4" fill="#e41c1c" opacity="0.95"/></g></g><ellipse cx="50.00" cy="41.30" rx="2.40" ry="1.60" fill="#e01515" opacity="1" filter="url(#b0)" transform="rotate(-35 50.00 41.30)"/><ellipse cx="50.50" cy="41.00" rx="1.00" ry="0.50" fill="#500" opacity="1" transform="rotate(-35 50.50 41.00)"/><g style="mix-blend-mode:screen"><rect x="41" y="0" width="36" height="36" fill="#020012"/><g transform="translate(-3 1.3)"><g filter="url(#b0)"><ellipse cx="57.20" cy="8.80" rx="4.80" ry="4.00" fill="#1a1aff" opacity="0.9" filter="url(#b1)" transform="rotate(-20 57.20 8.80)"/><circle cx="56.92" cy="9.41" r="1.91" fill="#1a1aff" opacity="1"/><circle cx="56.90" cy="8.98" r="1.71" fill="#1a1aff" opacity="1"/><circle cx="54.28" cy="9.96" r="1.73" fill="#1a1aff" opacity="1"/><circle cx="54.25" cy="6.41" r="1.84" fill="#1a1aff" opacity="1"/><circle cx="57.76" cy="4.71" r="1.94" fill="#1a1aff" opacity="1"/><circle cx="61.97" cy="8.37" r="1.73" fill="#1a1aff" opacity="1"/><circle cx="56.27" cy="5.41" r="1.47" fill="#1a1aff" opacity="1"/><circle cx="56.70" cy="8.48" r="1.86" fill="#1a1aff" opacity="1"/><circle cx="57.76" cy="9.78" r="1.66" fill="#1a1aff" opacity="1"/><circle cx="58.60" cy="7.93" r="1.53" fill="#1a1aff" opacity="1"/><circle cx="60.95" cy="9.20" r="1.55" fill="#1a1aff" opacity="1"/><circle cx="54.10" cy="8.14" r="1.40" fill="#1a1aff" opacity="1"/><circle cx="59.42" cy="7.15" r="1.86" fill="#1a1aff" opacity="1"/><circle cx="57.38" cy="12.61" r="1.86" fill="#1a1aff" opacity="1"/></g></g><ellipse cx="50.00" cy="41.80" rx="1.80" ry="1.60" fill="#1a1aff" opacity="1" filter="url(#b0)" transform="rotate(-30 50.00 41.80)"/></g></g><path d="M77 36.0 H40.5 V0" fill="none" stroke="#fff" stroke-width="1.4" stroke-linecap="square"/></g>
<g transform="translate(595.3 37.4)"><g clip-path="url(#ccB0)" style="isolation:isolate"><rect x="-4" y="-4" width="85" height="85.00" fill="#020003"/><circle cx="40.00" cy="48.00" r="20.00" fill="#090001" opacity="1" filter="url(#gr)"/><rect x="41" y="0" width="36" height="36" fill="#100002"/><ellipse cx="56.00" cy="21.00" rx="9.00" ry="12.00" fill="#ff0000" opacity="0.3" filter="url(#b3)"/><ellipse cx="56.00" cy="22.50" rx="6.00" ry="7.60" fill="#f01818" opacity="1" filter="url(#b1)" transform="rotate(-10 56.00 22.50)"/><ellipse cx="54.60" cy="13.60" rx="3.60" ry="2.80" fill="#ff1a1a" opacity="1" filter="url(#b1)" transform="rotate(20 54.60 13.60)"/><ellipse cx="58.80" cy="14.60" rx="2.60" ry="2.20" fill="#ff1a1a" opacity="1" filter="url(#b1)"/><ellipse cx="59.30" cy="21.00" rx="2.80" ry="4.20" fill="#c80e0e" opacity="1" filter="url(#b1)"/><ellipse cx="53.80" cy="21.00" rx="3.00" ry="5.00" fill="#ff2626" opacity="1" filter="url(#b1)"/><ellipse cx="55.00" cy="28.00" rx="3.20" ry="2.40" fill="#ff1a1a" opacity="1" filter="url(#b1)"/><g filter="url(#b0)"><circle cx="15.6" cy="40.6" r="1.5" fill="#ff1a1a" opacity="1"/><circle cx="16.6" cy="42.6" r="1.7" fill="#ff1a1a" opacity="1"/><circle cx="15.6" cy="44.6" r="1.5" fill="#ff1a1a" opacity="1"/><circle cx="17" cy="44.8" r="1.0" fill="#ff1a1a" opacity="1"/></g><ellipse cx="16.00" cy="42.60" rx="3.20" ry="4.50" fill="#ff0000" opacity="0.25" filter="url(#b2)"/></g><path d="M77 36.0 H40.5 V0" fill="none" stroke="#fff" stroke-width="1.4" stroke-linecap="square"/></g>
<g transform="translate(595.3 117.7)"><g clip-path="url(#ccB1)" style="isolation:isolate"><rect x="-4" y="-4" width="85" height="84.30" fill="#020003"/><rect x="41" y="0" width="36" height="36" fill="#020014"/><ellipse cx="55.20" cy="16.00" rx="7.00" ry="10.00" fill="#0000ff" opacity="0.3" filter="url(#b3)"/><ellipse cx="54.60" cy="16.50" rx="4.00" ry="7.00" fill="#1a1aff" opacity="1" filter="url(#b1)" transform="rotate(-8 54.60 16.50)"/><ellipse cx="56.50" cy="9.50" rx="3.00" ry="2.00" fill="#1a1aff" opacity="1" filter="url(#b1)" transform="rotate(15 56.50 9.50)"/><ellipse cx="57.50" cy="18.00" rx="2.50" ry="4.00" fill="#1212d0" opacity="1" filter="url(#b1)"/><ellipse cx="15.80" cy="42.20" rx="1.40" ry="2.80" fill="#1a1aff" opacity="1" filter="url(#b0)" transform="rotate(-15 15.80 42.20)"/></g><path d="M77 36.0 H40.5 V0" fill="none" stroke="#fff" stroke-width="1.4" stroke-linecap="square"/></g>
<g transform="translate(595.3 197.6)"><g clip-path="url(#ccB2)" style="isolation:isolate"><rect x="-4" y="-4" width="85" height="84.20" fill="#020003"/><circle cx="40.00" cy="48.00" r="20.00" fill="#090001" opacity="1" filter="url(#gr)"/><rect x="41" y="0" width="36" height="36" fill="#100002"/><g transform="translate(1.4 -4.6)"><ellipse cx="56.00" cy="21.00" rx="9.00" ry="12.00" fill="#ff0000" opacity="0.3" filter="url(#b3)"/><ellipse cx="56.00" cy="22.50" rx="6.00" ry="7.60" fill="#f01818" opacity="1" filter="url(#b1)" transform="rotate(-10 56.00 22.50)"/><ellipse cx="54.60" cy="13.60" rx="3.60" ry="2.80" fill="#ff1a1a" opacity="1" filter="url(#b1)" transform="rotate(20 54.60 13.60)"/><ellipse cx="58.80" cy="14.60" rx="2.60" ry="2.20" fill="#ff1a1a" opacity="1" filter="url(#b1)"/><ellipse cx="59.30" cy="21.00" rx="2.80" ry="4.20" fill="#c80e0e" opacity="1" filter="url(#b1)"/><ellipse cx="53.80" cy="21.00" rx="3.00" ry="5.00" fill="#ff2626" opacity="1" filter="url(#b1)"/><ellipse cx="55.00" cy="28.00" rx="3.20" ry="2.40" fill="#ff1a1a" opacity="1" filter="url(#b1)"/></g><g filter="url(#b0)"><circle cx="15.6" cy="40.6" r="1.5" fill="#ff1a1a" opacity="1"/><circle cx="16.6" cy="42.6" r="1.7" fill="#ff1a1a" opacity="1"/><circle cx="15.6" cy="44.6" r="1.5" fill="#ff1a1a" opacity="1"/><circle cx="17" cy="44.8" r="1.0" fill="#ff1a1a" opacity="1"/></g><ellipse cx="16.00" cy="42.60" rx="3.20" ry="4.50" fill="#ff0000" opacity="0.25" filter="url(#b2)"/><g style="mix-blend-mode:screen"><rect x="41" y="0" width="36" height="36" fill="#020014"/><g transform="translate(2 0.5)"><ellipse cx="55.20" cy="16.00" rx="7.00" ry="10.00" fill="#0000ff" opacity="0.3" filter="url(#b3)"/><ellipse cx="54.60" cy="16.50" rx="4.00" ry="7.00" fill="#1a1aff" opacity="1" filter="url(#b1)" transform="rotate(-8 54.60 16.50)"/><ellipse cx="56.50" cy="9.50" rx="3.00" ry="2.00" fill="#1a1aff" opacity="1" filter="url(#b1)" transform="rotate(15 56.50 9.50)"/><ellipse cx="57.50" cy="18.00" rx="2.50" ry="4.00" fill="#1212d0" opacity="1" filter="url(#b1)"/></g><ellipse cx="15.80" cy="42.20" rx="1.40" ry="2.80" fill="#1a1aff" opacity="1" filter="url(#b0)" transform="rotate(-15 15.80 42.20)"/></g></g><path d="M77 36.0 H40.5 V0" fill="none" stroke="#fff" stroke-width="1.4" stroke-linecap="square"/></g>
<g transform="translate(699.3 30.3)"><g clip-path="url(#ccC0)" style="isolation:isolate"><rect x="-4" y="-4" width="85" height="85.00" fill="#020003"/><circle cx="44.30" cy="44.20" r="24.50" fill="#2a0204" opacity="1" filter="url(#gr)"/><rect x="0" y="0" width="35" height="35" fill="#2c0305" filter="url(#gr0)"/></g><path d="M0 36.0 H35.8 V0" fill="none" stroke="#fff" stroke-width="2.7" stroke-linecap="square"/><rect x="0" y="-0.2" width="35.8" height="0.9" fill="#fff"/></g>
<g transform="translate(699.3 110.2)"><g clip-path="url(#ccC1)" style="isolation:isolate"><rect x="-4" y="-4" width="85" height="84.90" fill="#020003"/><g filter="url(#b0)"><circle cx="11" cy="9.5" r="1.7" fill="#1a1aff" opacity="0.95"/><circle cx="15" cy="9.2" r="1.5" fill="#1a1aff" opacity="0.95"/><circle cx="10.5" cy="13" r="1.8" fill="#1a1aff" opacity="0.95"/><circle cx="14.5" cy="12.5" r="1.6" fill="#1a1aff" opacity="0.95"/><circle cx="18" cy="12" r="1.4" fill="#1a1aff" opacity="0.95"/><circle cx="11.5" cy="16.5" r="1.7" fill="#1a1aff" opacity="0.95"/><circle cx="15.5" cy="16" r="1.7" fill="#1a1aff" opacity="0.95"/><circle cx="13" cy="19.5" r="1.6" fill="#1a1aff" opacity="0.95"/><circle cx="17" cy="19.5" r="1.5" fill="#1a1aff" opacity="0.95"/><circle cx="19.5" cy="16.5" r="1.3" fill="#1a1aff" opacity="0.95"/><circle cx="15" cy="22" r="1.3" fill="#1a1aff" opacity="0.95"/></g><ellipse cx="14.50" cy="15.50" rx="6.00" ry="7.50" fill="#0000ff" opacity="0.3" filter="url(#b2)"/><g filter="url(#b0)"><ellipse cx="42.00" cy="51.00" rx="1.36" ry="1.84" fill="#1a1aff" opacity="0.9" filter="url(#b1)"/><circle cx="41.47" cy="51.63" r="1.04" fill="#1a1aff" opacity="1"/><circle cx="42.77" cy="49.93" r="0.88" fill="#1a1aff" opacity="1"/><circle cx="41.22" cy="50.07" r="1.06" fill="#1a1aff" opacity="1"/><circle cx="41.19" cy="51.11" r="0.87" fill="#1a1aff" opacity="1"/><circle cx="41.55" cy="50.77" r="1.09" fill="#1a1aff" opacity="1"/></g></g><path d="M0 36.0 H35.8 V0" fill="none" stroke="#fff" stroke-width="2.7" stroke-linecap="square"/><rect x="0" y="-0.2" width="35.8" height="0.9" fill="#fff"/></g>
<g transform="translate(699.3 190.4)"><g clip-path="url(#ccC2)" style="isolation:isolate"><rect x="-4" y="-4" width="85" height="84.40" fill="#020003"/><circle cx="44.30" cy="44.20" r="24.50" fill="#2a0204" opacity="1" filter="url(#gr)"/><rect x="0" y="0" width="35" height="35" fill="#2c0305" filter="url(#gr0)"/><g style="mix-blend-mode:screen"><g transform="translate(-1.2 0.4)"><g filter="url(#b0)"><circle cx="11" cy="9.5" r="1.7" fill="#1a1aff" opacity="0.95"/><circle cx="15" cy="9.2" r="1.5" fill="#1a1aff" opacity="0.95"/><circle cx="10.5" cy="13" r="1.8" fill="#1a1aff" opacity="0.95"/><circle cx="14.5" cy="12.5" r="1.6" fill="#1a1aff" opacity="0.95"/><circle cx="18" cy="12" r="1.4" fill="#1a1aff" opacity="0.95"/><circle cx="11.5" cy="16.5" r="1.7" fill="#1a1aff" opacity="0.95"/><circle cx="15.5" cy="16" r="1.7" fill="#1a1aff" opacity="0.95"/><circle cx="13" cy="19.5" r="1.6" fill="#1a1aff" opacity="0.95"/><circle cx="17" cy="19.5" r="1.5" fill="#1a1aff" opacity="0.95"/><circle cx="19.5" cy="16.5" r="1.3" fill="#1a1aff" opacity="0.95"/><circle cx="15" cy="22" r="1.3" fill="#1a1aff" opacity="0.95"/></g><ellipse cx="14.50" cy="15.50" rx="6.00" ry="7.50" fill="#0000ff" opacity="0.3" filter="url(#b2)"/></g><g filter="url(#b0)"><ellipse cx="42.00" cy="51.00" rx="1.36" ry="1.84" fill="#1a1aff" opacity="0.9" filter="url(#b1)"/><circle cx="41.47" cy="51.63" r="1.04" fill="#1a1aff" opacity="1"/><circle cx="42.77" cy="49.93" r="0.88" fill="#1a1aff" opacity="1"/><circle cx="41.22" cy="50.07" r="1.06" fill="#1a1aff" opacity="1"/><circle cx="41.19" cy="51.11" r="0.87" fill="#1a1aff" opacity="1"/><circle cx="41.55" cy="50.77" r="1.09" fill="#1a1aff" opacity="1"/></g></g></g><path d="M0 36.0 H35.8 V0" fill="none" stroke="#fff" stroke-width="2.7" stroke-linecap="square"/><rect x="0" y="-0.2" width="35.8" height="0.9" fill="#fff"/></g>
<g transform="translate(778.7 30.3)"><g clip-path="url(#ccC0)" style="isolation:isolate"><rect x="-4" y="-4" width="85" height="85.00" fill="#020003"/><circle cx="34.80" cy="41.30" r="22.50" fill="#5e0408" opacity="1" filter="url(#gr)"/><rect x="41" y="0" width="36" height="36" fill="#68050a" filter="url(#gr0)"/><g filter="url(#b0)"><circle cx="60.5" cy="9" r="1.2" fill="#ff2a2a" opacity="1"/><circle cx="63" cy="7.5" r="1.3" fill="#ff2a2a" opacity="1"/><circle cx="65.5" cy="8.5" r="1.1" fill="#ff2a2a" opacity="1"/><circle cx="60" cy="12.5" r="1.3" fill="#ff2a2a" opacity="1"/><circle cx="68" cy="14" r="1.2" fill="#ff2a2a" opacity="1"/><circle cx="68.5" cy="17.5" r="1.3" fill="#ff2a2a" opacity="1"/><circle cx="60.5" cy="19" r="1.1" fill="#ff2a2a" opacity="1"/><circle cx="61.5" cy="23" r="1.6" fill="#ff2a2a" opacity="1"/><circle cx="62.5" cy="26" r="1.2" fill="#ff2a2a" opacity="1"/><circle cx="66" cy="20" r="1.0" fill="#ff2a2a" opacity="1"/></g><ellipse cx="64.00" cy="17.00" rx="6.00" ry="10.00" fill="#ff0000" opacity="0.18" filter="url(#b2)"/><g filter="url(#b0)"><circle cx="32.4" cy="36.6" r="0.9" fill="#ff2a2a" opacity="1"/><circle cx="33.6" cy="38.5" r="0.9" fill="#ff2a2a" opacity="1"/><circle cx="32.2" cy="40" r="0.9" fill="#ff2a2a" opacity="1"/><circle cx="33.3" cy="41.6" r="0.7" fill="#ff2a2a" opacity="1"/><circle cx="43.5" cy="44.2" r="0.7" fill="#ff2a2a" opacity="1"/></g></g><path d="M77 35.7 H41.0 V0" fill="none" stroke="#fff" stroke-width="2.7" stroke-linecap="square"/></g>
<g transform="translate(778.7 110.2)"><g clip-path="url(#ccC1)" style="isolation:isolate"><rect x="-4" y="-4" width="85" height="84.90" fill="#020003"/><rect x="41" y="0" width="36" height="36" fill="#020012"/><g filter="url(#b0)"><ellipse cx="64.90" cy="21.30" rx="3.00" ry="6.40" fill="#1a1aff" opacity="0.6" filter="url(#b1)" transform="rotate(12 64.90 21.30)"/><circle cx="62.11" cy="23.65" r="1.54" fill="#1a1aff" opacity="1"/><circle cx="68.03" cy="18.64" r="1.33" fill="#1a1aff" opacity="1"/><circle cx="65.74" cy="23.78" r="1.36" fill="#1a1aff" opacity="1"/><circle cx="66.23" cy="20.08" r="1.61" fill="#1a1aff" opacity="1"/><circle cx="63.59" cy="17.00" r="1.67" fill="#1a1aff" opacity="1"/><circle cx="64.82" cy="17.80" r="1.62" fill="#1a1aff" opacity="1"/><circle cx="66.67" cy="16.59" r="1.49" fill="#1a1aff" opacity="1"/><circle cx="66.80" cy="16.84" r="1.54" fill="#1a1aff" opacity="1"/><circle cx="63.28" cy="18.59" r="1.24" fill="#1a1aff" opacity="1"/><circle cx="62.92" cy="28.00" r="1.43" fill="#1a1aff" opacity="1"/><circle cx="64.40" cy="26.60" r="1.56" fill="#1a1aff" opacity="1"/><circle cx="62.47" cy="22.08" r="1.53" fill="#1a1aff" opacity="1"/><circle cx="66.95" cy="21.94" r="1.30" fill="#1a1aff" opacity="1"/><circle cx="65.47" cy="17.33" r="1.62" fill="#1a1aff" opacity="1"/><circle cx="66.08" cy="15.78" r="1.63" fill="#1a1aff" opacity="1"/><circle cx="63.26" cy="17.77" r="1.21" fill="#1a1aff" opacity="1"/></g><ellipse cx="32.90" cy="38.40" rx="1.30" ry="2.60" fill="#1a1aff" opacity="1" filter="url(#b0)" transform="rotate(10 32.90 38.40)"/></g><path d="M77 35.7 H41.0 V0" fill="none" stroke="#fff" stroke-width="2.7" stroke-linecap="square"/></g>
<g transform="translate(778.7 190.4)"><g clip-path="url(#ccC2)" style="isolation:isolate"><rect x="-4" y="-4" width="85" height="84.40" fill="#020003"/><circle cx="34.80" cy="41.30" r="22.50" fill="#5e0408" opacity="1" filter="url(#gr)"/><rect x="41" y="0" width="36" height="36" fill="#68050a" filter="url(#gr0)"/><g transform="translate(1 2.6)"><g filter="url(#b0)"><circle cx="60.5" cy="9" r="1.2" fill="#ff2a2a" opacity="1"/><circle cx="63" cy="7.5" r="1.3" fill="#ff2a2a" opacity="1"/><circle cx="65.5" cy="8.5" r="1.1" fill="#ff2a2a" opacity="1"/><circle cx="60" cy="12.5" r="1.3" fill="#ff2a2a" opacity="1"/><circle cx="68" cy="14" r="1.2" fill="#ff2a2a" opacity="1"/><circle cx="68.5" cy="17.5" r="1.3" fill="#ff2a2a" opacity="1"/><circle cx="60.5" cy="19" r="1.1" fill="#ff2a2a" opacity="1"/><circle cx="61.5" cy="23" r="1.6" fill="#ff2a2a" opacity="1"/><circle cx="62.5" cy="26" r="1.2" fill="#ff2a2a" opacity="1"/><circle cx="66" cy="20" r="1.0" fill="#ff2a2a" opacity="1"/></g><ellipse cx="64.00" cy="17.00" rx="6.00" ry="10.00" fill="#ff0000" opacity="0.18" filter="url(#b2)"/></g><g filter="url(#b0)"><circle cx="32.4" cy="36.6" r="0.9" fill="#ff2a2a" opacity="1"/><circle cx="33.6" cy="38.5" r="0.9" fill="#ff2a2a" opacity="1"/><circle cx="32.2" cy="40" r="0.9" fill="#ff2a2a" opacity="1"/><circle cx="33.3" cy="41.6" r="0.7" fill="#ff2a2a" opacity="1"/><circle cx="43.5" cy="44.2" r="0.7" fill="#ff2a2a" opacity="1"/></g><g style="mix-blend-mode:screen"><rect x="41" y="0" width="36" height="36" fill="#020012"/><g transform="translate(1.1 -1.7)"><g filter="url(#b0)"><ellipse cx="64.90" cy="21.30" rx="3.00" ry="6.40" fill="#1a1aff" opacity="0.6" filter="url(#b1)" transform="rotate(12 64.90 21.30)"/><circle cx="62.11" cy="23.65" r="1.54" fill="#1a1aff" opacity="1"/><circle cx="68.03" cy="18.64" r="1.33" fill="#1a1aff" opacity="1"/><circle cx="65.74" cy="23.78" r="1.36" fill="#1a1aff" opacity="1"/><circle cx="66.23" cy="20.08" r="1.61" fill="#1a1aff" opacity="1"/><circle cx="63.59" cy="17.00" r="1.67" fill="#1a1aff" opacity="1"/><circle cx="64.82" cy="17.80" r="1.62" fill="#1a1aff" opacity="1"/><circle cx="66.67" cy="16.59" r="1.49" fill="#1a1aff" opacity="1"/><circle cx="66.80" cy="16.84" r="1.54" fill="#1a1aff" opacity="1"/><circle cx="63.28" cy="18.59" r="1.24" fill="#1a1aff" opacity="1"/><circle cx="62.92" cy="28.00" r="1.43" fill="#1a1aff" opacity="1"/><circle cx="64.40" cy="26.60" r="1.56" fill="#1a1aff" opacity="1"/><circle cx="62.47" cy="22.08" r="1.53" fill="#1a1aff" opacity="1"/><circle cx="66.95" cy="21.94" r="1.30" fill="#1a1aff" opacity="1"/><circle cx="65.47" cy="17.33" r="1.62" fill="#1a1aff" opacity="1"/><circle cx="66.08" cy="15.78" r="1.63" fill="#1a1aff" opacity="1"/><circle cx="63.26" cy="17.77" r="1.21" fill="#1a1aff" opacity="1"/></g></g><ellipse cx="32.90" cy="38.40" rx="1.30" ry="2.60" fill="#1a1aff" opacity="1" filter="url(#b0)" transform="rotate(10 32.90 38.40)"/></g></g><path d="M77 35.7 H41.0 V0" fill="none" stroke="#fff" stroke-width="2.7" stroke-linecap="square"/></g>
<g transform="translate(858.0 30.3)"><g clip-path="url(#ccC0)" style="isolation:isolate"><rect x="-4" y="-4" width="85" height="85.00" fill="#020003"/><circle cx="37.00" cy="44.60" r="22.00" fill="#120001" opacity="1" filter="url(#gr)"/><rect x="41" y="0" width="36" height="36" fill="#0e0001"/><ellipse cx="59.20" cy="6.90" rx="2.60" ry="1.90" fill="#a00c0c" opacity="0.9" filter="url(#b1)" transform="rotate(-20 59.20 6.90)"/><ellipse cx="61.30" cy="5.20" rx="1.20" ry="1.20" fill="#a00c0c" opacity="0.9" filter="url(#b0)"/><ellipse cx="37.20" cy="40.30" rx="1.00" ry="1.00" fill="#a00c0c" opacity="1" filter="url(#b0)"/></g><path d="M77 35.7 H41.0 V0" fill="none" stroke="#fff" stroke-width="2.7" stroke-linecap="square"/></g>
<g transform="translate(858.0 110.2)"><g clip-path="url(#ccC1)" style="isolation:isolate"><rect x="-4" y="-4" width="85" height="84.90" fill="#020003"/><rect x="0" y="0" width="77" height="77" fill="#030010"/><rect x="41" y="0" width="36" height="36" fill="#050018"/><ellipse cx="57.20" cy="6.90" rx="3.80" ry="3.40" fill="#1a1aff" opacity="1" filter="url(#b1)"/><ellipse cx="59.50" cy="5.20" rx="2.00" ry="2.00" fill="#2a3cff" opacity="1" filter="url(#b0)"/><ellipse cx="58.00" cy="7.00" rx="6.00" ry="5.00" fill="#0000ff" opacity="0.3" filter="url(#b2)"/><ellipse cx="37.20" cy="39.70" rx="1.50" ry="1.50" fill="#1a1aff" opacity="1" filter="url(#b0)"/><ellipse cx="27.50" cy="46.70" rx="1.90" ry="1.50" fill="#1a1aff" opacity="0.8" filter="url(#b0)"/></g><path d="M77 35.7 H41.0 V0" fill="none" stroke="#fff" stroke-width="2.7" stroke-linecap="square"/></g>
<g transform="translate(858.0 190.4)"><g clip-path="url(#ccC2)" style="isolation:isolate"><rect x="-4" y="-4" width="85" height="84.40" fill="#020003"/><circle cx="37.00" cy="44.60" r="22.00" fill="#120001" opacity="1" filter="url(#gr)"/><rect x="41" y="0" width="36" height="36" fill="#0e0001"/><g transform="translate(0 1.4)"><ellipse cx="59.20" cy="6.90" rx="2.60" ry="1.90" fill="#a00c0c" opacity="0.9" filter="url(#b1)" transform="rotate(-20 59.20 6.90)"/><ellipse cx="61.30" cy="5.20" rx="1.20" ry="1.20" fill="#a00c0c" opacity="0.9" filter="url(#b0)"/></g><ellipse cx="37.20" cy="40.30" rx="1.00" ry="1.00" fill="#a00c0c" opacity="1" filter="url(#b0)"/><g style="mix-blend-mode:screen"><rect x="0" y="0" width="77" height="77" fill="#030010"/><rect x="41" y="0" width="36" height="36" fill="#050018"/><g transform="translate(1 1.4)"><ellipse cx="57.20" cy="6.90" rx="3.80" ry="3.40" fill="#1a1aff" opacity="1" filter="url(#b1)"/><ellipse cx="59.50" cy="5.20" rx="2.00" ry="2.00" fill="#2a3cff" opacity="1" filter="url(#b0)"/><ellipse cx="58.00" cy="7.00" rx="6.00" ry="5.00" fill="#0000ff" opacity="0.3" filter="url(#b2)"/></g><ellipse cx="37.20" cy="39.70" rx="1.50" ry="1.50" fill="#1a1aff" opacity="1" filter="url(#b0)"/><ellipse cx="27.50" cy="46.70" rx="1.90" ry="1.50" fill="#1a1aff" opacity="0.8" filter="url(#b0)"/></g></g><path d="M77 35.7 H41.0 V0" fill="none" stroke="#fff" stroke-width="2.7" stroke-linecap="square"/></g>
<g transform="translate(937.3 30.3)"><g clip-path="url(#ccC0)" style="isolation:isolate"><rect x="-4" y="-4" width="85" height="85.00" fill="#020003"/><circle cx="43.00" cy="50.00" r="21.00" fill="#180002" opacity="1" filter="url(#gr)"/><rect x="41" y="0" width="36" height="36" fill="#0e0001"/><ellipse cx="58.60" cy="12.20" rx="4.20" ry="4.60" fill="#ff1a1a" opacity="1" filter="url(#b1)"/><ellipse cx="61.50" cy="11.50" rx="1.60" ry="4.50" fill="#ff1a1a" opacity="1" filter="url(#b0)" transform="rotate(10 61.50 11.50)"/><ellipse cx="60.50" cy="17.80" rx="1.50" ry="2.20" fill="#ff1a1a" opacity="1" filter="url(#b0)" transform="rotate(-20 60.50 17.80)"/><ellipse cx="59.00" cy="13.00" rx="7.00" ry="8.00" fill="#ff0000" opacity="0.25" filter="url(#b2)"/><ellipse cx="32.90" cy="35.10" rx="1.80" ry="2.30" fill="#ff1a1a" opacity="1" filter="url(#b0)"/><ellipse cx="33.00" cy="37.50" rx="0.80" ry="1.00" fill="#ff1a1a" opacity="1" filter="url(#b0)"/></g><path d="M77 35.7 H41.0 V0" fill="none" stroke="#fff" stroke-width="2.7" stroke-linecap="square"/></g>
<g transform="translate(937.3 110.2)"><g clip-path="url(#ccC1)" style="isolation:isolate"><rect x="-4" y="-4" width="85" height="84.90" fill="#020003"/><rect x="0" y="0" width="77" height="77" fill="#03000e"/><rect x="41" y="0" width="36" height="36" fill="#050018"/><circle cx="48.00" cy="52.00" r="20.00" fill="#060020" opacity="1" filter="url(#gr)"/><ellipse cx="61.20" cy="16.50" rx="4.00" ry="4.00" fill="#1a1aff" opacity="1" filter="url(#b1)"/><ellipse cx="62.50" cy="20.50" rx="1.20" ry="2.60" fill="#1a1aff" opacity="0.9" filter="url(#b0)" transform="rotate(-20 62.50 20.50)"/><ellipse cx="63.00" cy="13.50" rx="2.00" ry="2.00" fill="#1a1aff" opacity="1" filter="url(#b0)"/><ellipse cx="61.00" cy="17.00" rx="7.00" ry="7.00" fill="#0000ff" opacity="0.3" filter="url(#b2)"/><ellipse cx="33.30" cy="34.50" rx="1.50" ry="1.60" fill="#1a1aff" opacity="1" filter="url(#b0)"/></g><path d="M77 35.7 H41.0 V0" fill="none" stroke="#fff" stroke-width="2.7" stroke-linecap="square"/></g>
<g transform="translate(937.3 190.4)"><g clip-path="url(#ccC2)" style="isolation:isolate"><rect x="-4" y="-4" width="85" height="84.40" fill="#020003"/><circle cx="43.00" cy="50.00" r="21.00" fill="#180002" opacity="1" filter="url(#gr)"/><rect x="41" y="0" width="36" height="36" fill="#0e0001"/><g transform="translate(2.5 4)"><ellipse cx="58.60" cy="12.20" rx="4.20" ry="4.60" fill="#ff1a1a" opacity="1" filter="url(#b1)"/><ellipse cx="61.50" cy="11.50" rx="1.60" ry="4.50" fill="#ff1a1a" opacity="1" filter="url(#b0)" transform="rotate(10 61.50 11.50)"/><ellipse cx="60.50" cy="17.80" rx="1.50" ry="2.20" fill="#ff1a1a" opacity="1" filter="url(#b0)" transform="rotate(-20 60.50 17.80)"/><ellipse cx="59.00" cy="13.00" rx="7.00" ry="8.00" fill="#ff0000" opacity="0.25" filter="url(#b2)"/></g><ellipse cx="32.90" cy="35.10" rx="1.80" ry="2.30" fill="#ff1a1a" opacity="1" filter="url(#b0)"/><ellipse cx="33.00" cy="37.50" rx="0.80" ry="1.00" fill="#ff1a1a" opacity="1" filter="url(#b0)"/><g style="mix-blend-mode:screen"><rect x="0" y="0" width="77" height="77" fill="#03000e"/><rect x="41" y="0" width="36" height="36" fill="#050018"/><circle cx="48.00" cy="52.00" r="20.00" fill="#060020" opacity="1" filter="url(#gr)"/><ellipse cx="61.20" cy="16.50" rx="4.00" ry="4.00" fill="#1a1aff" opacity="1" filter="url(#b1)"/><ellipse cx="62.50" cy="20.50" rx="1.20" ry="2.60" fill="#1a1aff" opacity="0.9" filter="url(#b0)" transform="rotate(-20 62.50 20.50)"/><ellipse cx="63.00" cy="13.50" rx="2.00" ry="2.00" fill="#1a1aff" opacity="1" filter="url(#b0)"/><ellipse cx="61.00" cy="17.00" rx="7.00" ry="7.00" fill="#0000ff" opacity="0.3" filter="url(#b2)"/><ellipse cx="33.30" cy="34.50" rx="1.50" ry="1.60" fill="#1a1aff" opacity="1" filter="url(#b0)"/></g></g><path d="M77 35.7 H41.0 V0" fill="none" stroke="#fff" stroke-width="2.7" stroke-linecap="square"/></g>
<rect x="298.7" y="263.2" width="30" height="2.8" fill="#fff"/>
<rect x="638" y="264.2" width="30" height="2.6" fill="#fff"/>
<rect x="979.2" y="258" width="29.6" height="2.6" fill="#fff"/>
<text x="2.5" y="24" class="big" text-anchor="start">A</text>
<text x="100" y="19.8" class="t" text-anchor="middle">MI oocyte</text>
<line x1="34" y1="23" x2="167" y2="23" stroke="#000" stroke-width="1.35"/>
<text x="256.5" y="19.8" class="t" text-anchor="middle">MII oocyte</text>
<line x1="192" y1="23" x2="320.5" y2="23" stroke="#000" stroke-width="1.35"/>
<text x="57.8" y="33.0" class="t" text-anchor="middle">Control</text>
<text x="134.5" y="33.0" class="t" text-anchor="middle">JB-3-22</text>
<text x="214.3" y="33.6" class="t" text-anchor="middle">Control</text>
<text x="295" y="34.6" class="t" text-anchor="middle">JB-3-22</text>
<text transform="translate(13.1 77.5) rotate(-90)" text-anchor="middle" style="font-size:10.7px;fill:#ff1e1e;stroke:#ff1e1e;stroke-width:0.22px">H4K16 ac</text>
<text transform="translate(13.5 155) rotate(-90)" text-anchor="middle" style="font-size:10.7px;fill:#4a22ff;stroke:#4a22ff;stroke-width:0.22px">DNA</text>
<text transform="translate(12.8 233.8) rotate(-90)" text-anchor="middle" style="font-size:10.7px;fill:#0a0a0a;stroke:#0a0a0a;stroke-width:0.22px">Merge</text>
<text x="347" y="21" class="big" text-anchor="start">B</text>
<text x="436.5" y="20.8" class="t" text-anchor="middle">MI oocyte</text>
<line x1="371.2" y1="24.7" x2="503.2" y2="24.7" stroke="#000" stroke-width="1.35"/>
<text x="593.1" y="20.8" class="t" text-anchor="middle">MII oocyte</text>
<line x1="528.2" y1="24.7" x2="657" y2="24.7" stroke="#000" stroke-width="1.35"/>
<text x="394.1" y="34.4" class="t" text-anchor="middle">Control</text>
<text x="471.3" y="34.4" class="t" text-anchor="middle">JB-3-22</text>
<text x="550.9" y="35.2" class="t" text-anchor="middle">Control</text>
<text x="631.9" y="36.1" class="t" text-anchor="middle">JB-3-22</text>
<text transform="translate(349.7 74.5) rotate(-90)" text-anchor="middle" style="font-size:10.7px;fill:#ff1e1e;stroke:#ff1e1e;stroke-width:0.22px">H4K5 ac</text>
<text transform="translate(350.3 156.8) rotate(-90)" text-anchor="middle" style="font-size:10.7px;fill:#4a22ff;stroke:#4a22ff;stroke-width:0.22px">DNA</text>
<text transform="translate(349.6 235) rotate(-90)" text-anchor="middle" style="font-size:10.7px;fill:#0a0a0a;stroke:#0a0a0a;stroke-width:0.22px">Merge</text>
<text x="690.8" y="22.9" class="big" text-anchor="start">C</text>
<text x="782.6" y="13.4" class="t" text-anchor="middle">MI oocyte</text>
<line x1="714.4" y1="17.3" x2="849.5" y2="17.3" stroke="#000" stroke-width="1.35"/>
<text x="939.1" y="13.4" class="t" text-anchor="middle">MII oocyte</text>
<line x1="874.2" y1="17.5" x2="1002.5" y2="17.5" stroke="#000" stroke-width="1.35"/>
<text x="740" y="27.4" class="t" text-anchor="middle">Control</text>
<text x="817.1" y="27.4" class="t" text-anchor="middle">JB-3-22</text>
<text x="897.1" y="27.8" class="t" text-anchor="middle">Control</text>
<text x="977.9" y="29.2" class="t" text-anchor="middle">JB-3-22</text>
<text transform="translate(695.3 66.9) rotate(-90)" text-anchor="middle" style="font-size:10.7px;fill:#ff1e1e;stroke:#ff1e1e;stroke-width:0.22px">H4K12 ac</text>
<text transform="translate(694.9 141) rotate(-90)" text-anchor="middle" style="font-size:10.7px;fill:#4a22ff;stroke:#4a22ff;stroke-width:0.22px">DNA</text>
<text transform="translate(695.2 219) rotate(-90)" text-anchor="middle" style="font-size:10.7px;fill:#0a0a0a;stroke:#0a0a0a;stroke-width:0.22px">Merge</text>
<rect x="98" y="378.5" width="23.80" height="11.30" fill="#000"/><rect x="125" y="313" width="23.40" height="76.80" fill="#a2a2a4"/><rect x="180.4" y="381" width="24.00" height="8.80" fill="#000"/><rect x="207.2" y="330.8" width="23.50" height="59.00" fill="#a2a2a4"/><path class="ax" d="M109.8 379.0 V375.5 M104.4 375.5 H115.1"/><path class="ax" d="M136.3 313.5 V302.3 M130.7 302.3 H142"/><path class="ax" d="M192.2 381.5 V377.5 M186.8 377.5 H197.7"/><path class="ax" d="M219 331.3 V320.8 M213.3 320.8 H224.5"/><path class="ax" d="M82 295 V389.8 M78.3 389.8 H247.2"/><path class="ax" d="M78.3 389.80 H82"/><text x="77" y="396.10" class="tk" text-anchor="end">0.00</text><path class="ax" d="M78.3 370.95 H82"/><text x="77" y="375.45" class="tk" text-anchor="end">0.05</text><path class="ax" d="M78.3 352.10 H82"/><text x="77" y="356.60" class="tk" text-anchor="end">0.10</text><path class="ax" d="M78.3 333.25 H82"/><text x="77" y="337.75" class="tk" text-anchor="end">0.15</text><path class="ax" d="M78.3 314.40 H82"/><text x="77" y="318.90" class="tk" text-anchor="end">0.20</text><path class="ax" d="M78.3 295.55 H82"/><text x="77" y="300.05" class="tk" text-anchor="end">0.25</text><path class="ax" d="M122.9 389.8 V392.0"/><path class="ax" d="M205.2 389.8 V392.0"/><path class="ax" d="M109.4 368 V295.6 H136.3 V298.2" stroke-linejoin="miter"/><path class="ax" d="M191.7 369.3 V305.5 H218.2 V311" stroke-linejoin="miter"/><text x="122.5" y="295.7" class="st" text-anchor="middle">**</text><text x="205.9" y="306.2" class="st" text-anchor="middle">**</text><text x="129.7" y="403.7" class="t" text-anchor="middle">MI Oocyte</text><text x="209.7" y="403.7" class="t" text-anchor="middle">MII Oocyte</text><text transform="translate(37 347.8) rotate(-90)" text-anchor="middle" style="font-size:10.7px;fill:#0a0a0a;stroke:#0a0a0a;stroke-width:0.22px">H4K16ac fluorescence</text><text transform="translate(49.5 347.8) rotate(-90)" text-anchor="middle" style="font-size:10.7px;fill:#0a0a0a;stroke:#0a0a0a;stroke-width:0.22px">intensity</text><rect x="257.6" y="299.6" width="13.1" height="5.7" rx="1" fill="#000"/><rect x="257.6" y="310.6" width="13.1" height="5.7" rx="1" fill="#a2a2a4"/><text x="275.2" y="305.3" class="t" text-anchor="start">Control</text><text x="275.6" y="317.3" class="t" text-anchor="start">JB-3-22</text>
<rect x="440.5" y="371.3" width="24.70" height="24.00" fill="#000"/><rect x="468" y="344.3" width="25.00" height="51.00" fill="#a2a2a4"/><rect x="525.9" y="356.2" width="24.40" height="39.10" fill="#000"/><rect x="553.3" y="328.7" width="24.70" height="66.60" fill="#a2a2a4"/><path class="ax" d="M452 371.8 V367.5 M446.4 367.5 H457.8"/><path class="ax" d="M480.2 344.8 V338.7 M474.6 338.7 H485.8"/><path class="ax" d="M538.2 356.7 V347.6 M532.7 347.6 H543.6"/><path class="ax" d="M565.4 329.2 V318.3 M560 318.3 H570.7"/><path class="ax" d="M423.4 298.5 V395.3 M420 395.3 H594.7"/><path class="ax" d="M420 395.30 H423.4"/><text x="418.2" y="398.10" class="tk" text-anchor="end">0.00</text><path class="ax" d="M420 371.40 H423.4"/><text x="418.2" y="375.10" class="tk" text-anchor="end">0.05</text><path class="ax" d="M420 347.50 H423.4"/><text x="418.2" y="351.20" class="tk" text-anchor="end">0.10</text><path class="ax" d="M420 323.60 H423.4"/><text x="418.2" y="327.30" class="tk" text-anchor="end">0.15</text><path class="ax" d="M420 299.70 H423.4"/><text x="418.2" y="303.40" class="tk" text-anchor="end">0.20</text><path class="ax" d="M466.2 395.3 V397.5"/><path class="ax" d="M551.4 395.3 V397.5"/><path class="ax" d="M452.2 361.3 V308.9 H480 V327.8" stroke-linejoin="miter"/><path class="ax" d="M538.9 337.9 V302.1 H564.9 V308.2" stroke-linejoin="miter"/><text x="465.9" y="308.7" class="st" text-anchor="middle">**</text><text x="552.4" y="302.5" class="st" text-anchor="middle">**</text><text x="472" y="408.7" class="t" text-anchor="middle">MI Oocyte</text><text x="552.2" y="408.7" class="t" text-anchor="middle">MII Oocyte</text><text transform="translate(381.2 344.6) rotate(-90)" text-anchor="middle" style="font-size:10.7px;fill:#0a0a0a;stroke:#0a0a0a;stroke-width:0.22px">H4K5ac fluorescence</text><text transform="translate(393.7 344.6) rotate(-90)" text-anchor="middle" style="font-size:10.7px;fill:#0a0a0a;stroke:#0a0a0a;stroke-width:0.22px">intensity</text><rect x="605.1" y="302.7" width="14" height="5.8" rx="1" fill="#000"/><rect x="605.1" y="314.5" width="14" height="5.8" rx="1" fill="#a2a2a4"/><text x="623.1" y="309" class="t" text-anchor="start">Control</text><text x="623.7" y="321" class="t" text-anchor="start">JB-3-22</text>
<rect x="787.8" y="353.3" width="23.80" height="32.90" fill="#000"/><rect x="814.6" y="314.5" width="24.20" height="71.70" fill="#a2a2a4"/><rect x="870.5" y="344.5" width="24.00" height="41.70" fill="#000"/><rect x="897.4" y="322.9" width="23.90" height="63.30" fill="#a2a2a4"/><path class="ax" d="M799.6 353.8 V344.5 M794.4 344.5 H804.9"/><path class="ax" d="M827.2 315.0 V301.9 M821.7 301.9 H832.3"/><path class="ax" d="M882.3 345.0 V340.7 M876.8 340.7 H887.8"/><path class="ax" d="M909.2 323.4 V315.6 M903.7 315.6 H914.6"/><path class="ax" d="M771.9 292.7 V386.2 M768.4 386.2 H937.8"/><path class="ax" d="M768.4 386.20 H771.9"/><text x="766.4" y="390.70" class="tk" text-anchor="end">0.00</text><path class="ax" d="M768.4 363.00 H771.9"/><text x="766.4" y="367.50" class="tk" text-anchor="end">0.05</text><path class="ax" d="M768.4 339.80 H771.9"/><text x="766.4" y="344.30" class="tk" text-anchor="end">0.10</text><path class="ax" d="M768.4 316.60 H771.9"/><text x="766.4" y="321.10" class="tk" text-anchor="end">0.15</text><path class="ax" d="M768.4 293.40 H771.9"/><text x="766.4" y="297.90" class="tk" text-anchor="end">0.20</text><path class="ax" d="M812.8 386.2 V388.4"/><path class="ax" d="M895.3 386.2 V388.4"/><path class="ax" d="M799.4 335.1 V291 H826.7 V294.3" stroke-linejoin="miter"/><path class="ax" d="M881.4 331.2 V291 H908.4 V308.3" stroke-linejoin="miter"/><text x="813.4" y="291.5" class="st" text-anchor="middle">**</text><text x="895.4" y="292.0" class="st" text-anchor="middle">**</text><text x="818.1" y="399.7" class="t" text-anchor="middle">MI Oocyte</text><text x="898.3" y="399.7" class="t" text-anchor="middle">MII Oocyte</text><text transform="translate(728.9 340.4) rotate(-90)" text-anchor="middle" style="font-size:10.7px;fill:#0a0a0a;stroke:#0a0a0a;stroke-width:0.22px">H4K12ac fluorescence</text><text transform="translate(741.5 340.4) rotate(-90)" text-anchor="middle" style="font-size:10.7px;fill:#0a0a0a;stroke:#0a0a0a;stroke-width:0.22px">intensity</text><rect x="948.2" y="296.3" width="12.9" height="5.8" rx="1" fill="#000"/><rect x="948.2" y="308.2" width="12.9" height="5.8" rx="1" fill="#a2a2a4"/><text x="966.1" y="302.8" class="t" text-anchor="start">Control</text><text x="966.7" y="315.2" class="t" text-anchor="start">JB-3-22</text>
</g></svg></body></html>
